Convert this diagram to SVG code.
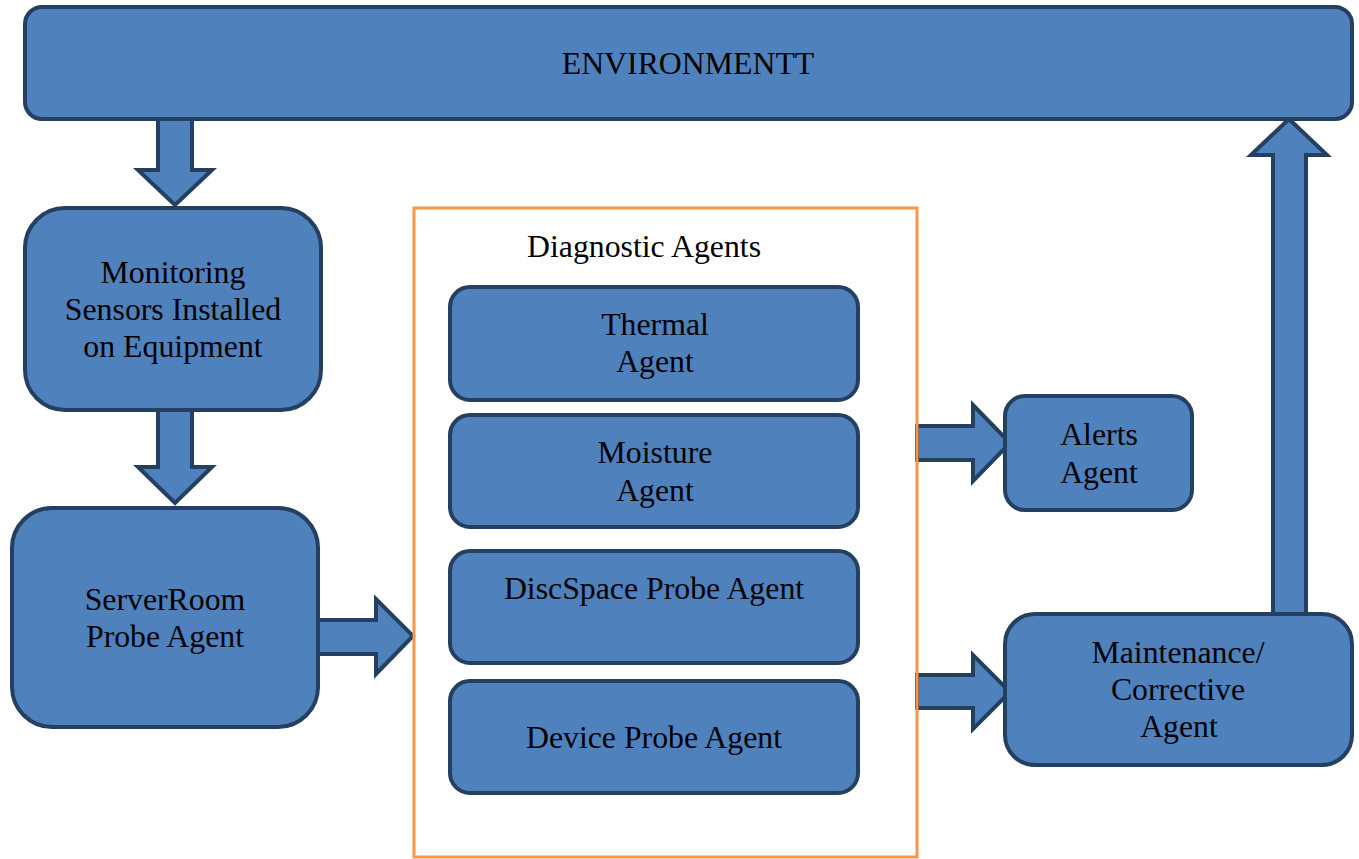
<svg xmlns="http://www.w3.org/2000/svg" width="1359" height="859" viewBox="0 0 1359 859">
<style>
.n{fill:#4F81BD;stroke:#243F60;stroke-width:4}
.a{fill:#4F81BD;stroke:#243F60;stroke-width:4;stroke-linejoin:miter}
.t{font-family:"Liberation Serif","Times New Roman",serif;font-size:31.8px;fill:#000;text-anchor:middle}
</style>
<rect width="1359" height="859" fill="#fff"/>
<g id="connectors">
<path class="a" d="M158,119 L192,119 L192,170 L212,170 L175,205 L138,170 L158,170 Z"/>
<path class="a" d="M158,410 L192,410 L192,467 L212,467 L175,503 L138,467 L158,467 Z"/>
<path class="a" d="M318,620 L376,620 L376,599 L413,636 L376,674 L376,654 L318,654 Z"/>
<path class="a" d="M917,426 L973,426 L973,405 L1010,443 L973,481 L973,460 L917,460 Z"/>
<path class="a" d="M917,675 L973,675 L973,655 L1010,692 L973,729 L973,708 L917,708 Z"/>
<path class="a" d="M1273,614 L1273,155 L1251,155 L1289,119 L1327,155 L1306,155 L1306,614 Z"/>
</g>
<g id="environment">
<rect class="n" x="25" y="7" width="1327" height="112" rx="17"/>
<text class="t" x="688" y="74">ENVIRONMENTT</text>
</g>
<g id="monitoring">
<rect class="n" x="25" y="208" width="296" height="202" rx="40"/>
<text class="t" x="173" y="283">Monitoring</text>
<text class="t" x="173" y="320">Sensors Installed</text>
<text class="t" x="173" y="357">on Equipment</text>
</g>
<g id="serverroom">
<rect class="n" x="12" y="508" width="306" height="219" rx="40"/>
<text class="t" x="165" y="610">ServerRoom</text>
<text class="t" x="165" y="647">Probe Agent</text>
</g>
<g id="diagnostic">
<rect x="414" y="208" width="503" height="649" fill="none" stroke="#F79646" stroke-width="3"/>
<text class="t" x="644" y="257">Diagnostic Agents</text>
</g>
<g id="thermal">
<rect class="n" x="450" y="287" width="408" height="113" rx="20"/>
<text class="t" x="655" y="335">Thermal</text>
<text class="t" x="655" y="372">Agent</text>
</g>
<g id="moisture">
<rect class="n" x="450" y="415" width="408" height="112" rx="20"/>
<text class="t" x="655" y="463">Moisture</text>
<text class="t" x="655" y="501">Agent</text>
</g>
<g id="discspace">
<rect class="n" x="450" y="551" width="408" height="112" rx="20"/>
<text class="t" x="654" y="599">DiscSpace Probe Agent</text>
</g>
<g id="device">
<rect class="n" x="450" y="681" width="408" height="112" rx="20"/>
<text class="t" x="654" y="748">Device Probe Agent</text>
</g>
<g id="alerts">
<rect class="n" x="1005" y="396" width="187" height="114" rx="20"/>
<text class="t" x="1099" y="445">Alerts</text>
<text class="t" x="1099" y="483">Agent</text>
</g>
<g id="maintenance">
<rect class="n" x="1005" y="614" width="347" height="151" rx="30"/>
<text class="t" x="1178" y="663">Maintenance/</text>
<text class="t" x="1178" y="700">Corrective</text>
<text class="t" x="1179" y="737">Agent</text>
</g>
</svg>
